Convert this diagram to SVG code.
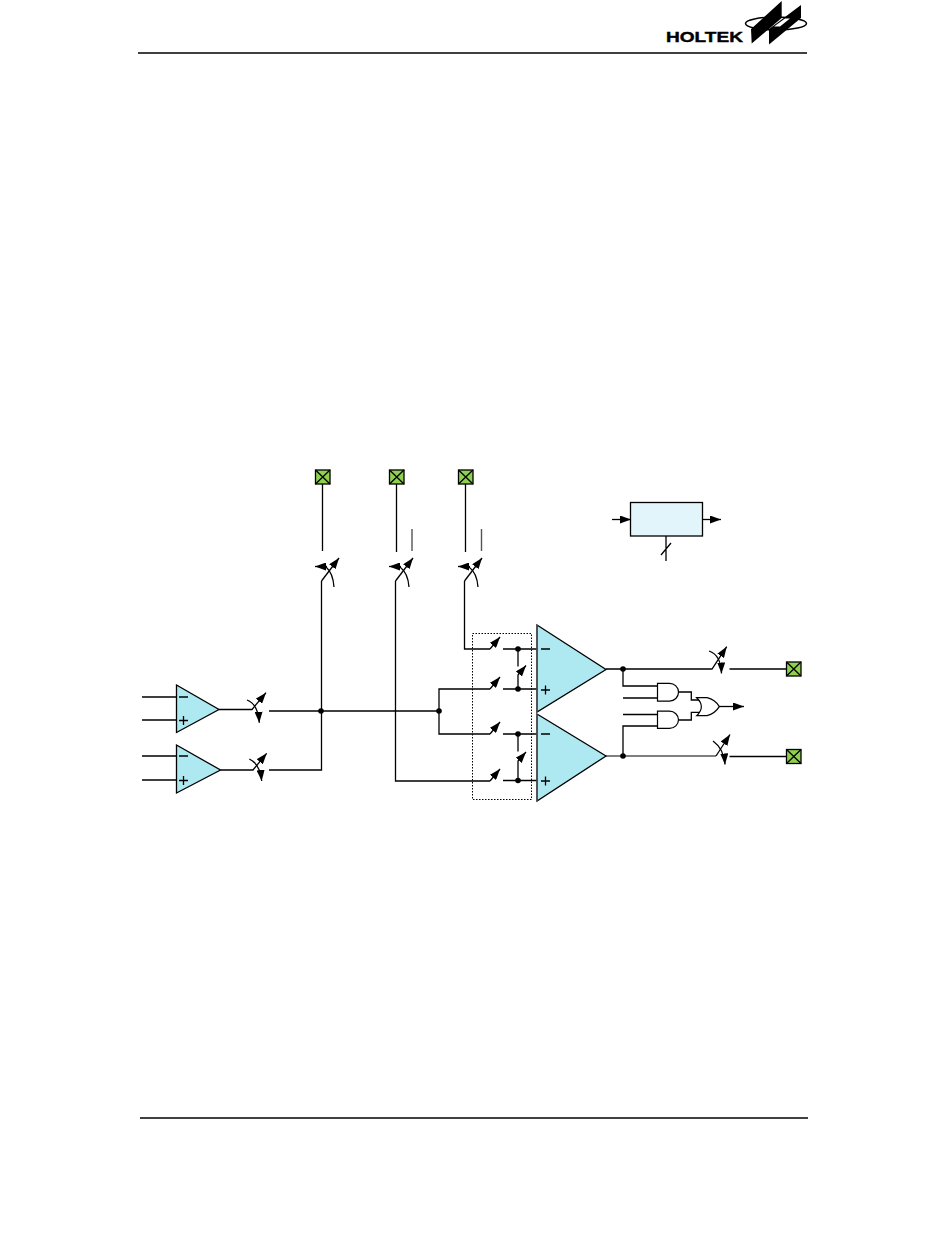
<svg xmlns="http://www.w3.org/2000/svg" width="950" height="1241" viewBox="0 0 950 1241">
<style>
.w{fill:none;stroke:#000;stroke-width:1.3}
.g{fill:none;stroke:#555;stroke-width:1.4}
.amp{fill:#aee8f1;stroke:#000;stroke-width:1.3}
.pad{fill:#8fd14f;stroke:#000;stroke-width:1.3}
.gate{fill:#fff;stroke:#000;stroke-width:1.2}
.dot{fill:#000}
</style>
<defs>
<marker id="a" viewBox="0 0 11 8" refX="11" refY="4" markerWidth="11" markerHeight="8" markerUnits="userSpaceOnUse" orient="auto"><path d="M0 0L11 4L0 8Z" fill="#000"/></marker>
<g id="pad"><rect class="pad" x="0" y="0" width="14.500" height="14"/><path class="w" d="M0 0L14.500 14M14.500 0L0 14"/></g>
</defs>
<rect width="950" height="1241" fill="#fff"/>
<g id="header">
<path d="M138 53H807" stroke="#000" stroke-width="1.6"/>
<text x="666" y="41.800" font-family="Liberation Sans, Arial, sans-serif" font-weight="700" font-size="15.500" textLength="77" lengthAdjust="spacingAndGlyphs" stroke="#000" stroke-width="0.4">HOLTEK</text>
<ellipse cx="776" cy="23.500" rx="30.500" ry="6.500" fill="none" stroke="#000" stroke-width="1.500"/>
<path d="M781.700 1V18L751.700 43.500L751 29Z M801 5V18L769 44.500V29Z" fill="#000"/>
<path d="M774 26.500L785 18.500L790 18.500L780 26.500Z" fill="#fff"/>
</g>
<g id="connectors">
<path class="w" d="M322.500 484V551M396.500 484V552M465.500 484V552"/>
<path class="g" d="M412 529V551M481.500 529V551"/>
<path class="w" d="M321.500 581L339 558" marker-end="url(#a)"/>
<path class="w" d="M395.500 581L413 558" marker-end="url(#a)"/>
<path class="w" d="M464.500 581L482 558" marker-end="url(#a)"/>
<path class="w" d="M327 566.500H315" marker-end="url(#a)"/>
<path class="w" d="M401 566.500H389" marker-end="url(#a)"/>
<path class="w" d="M470 566.500H458" marker-end="url(#a)"/>
<path class="w" d="M326 567Q333 573 334 587M400 567Q408 573 409 587M469 567Q477 573 478 587"/>
<path class="w" d="M321.500 581V770H269"/>
<path class="w" d="M395.500 581V781H490"/>
<path class="w" d="M464.500 581V649H490"/>
<path class="w" d="M142 697H176.500M142 720H176.500M142 756H176.500M142 780H176.500"/>
<path class="w" d="M219 709.500H252L266 692.700" marker-end="url(#a)"/>
<path class="w" d="M247 700Q258 704 259.300 722.700" marker-end="url(#a)"/>
<path class="w" d="M220.500 770H253L266.700 753.300" marker-end="url(#a)"/>
<path class="w" d="M249.300 759Q260 764 261.700 781" marker-end="url(#a)"/>
<path class="w" d="M269 711H439"/>
<path class="w" d="M490 689H439V734H490"/>
<path class="w" d="M490 649L500 637" marker-end="url(#a)"/>
<path class="w" d="M490 689L500 677" marker-end="url(#a)"/>
<path class="w" d="M490 734L500 722" marker-end="url(#a)"/>
<path class="w" d="M490 781L500 769" marker-end="url(#a)"/>
<path class="w" d="M503 649H537M503 689H537M503 734H537M503 780.500H537"/>
<path class="w" d="M518 649V666.500M518 734V751.500"/>
<path class="w" d="M518 689V675L526 665.500" marker-end="url(#a)"/>
<path class="w" d="M518 780.500V761L526 752" marker-end="url(#a)"/>
<rect x="472.500" y="633.500" width="59" height="166" fill="none" stroke="#000" stroke-width="1" stroke-dasharray="1.500 1.500"/>
<path class="w" d="M606 669H712L726.700 646.700" marker-end="url(#a)"/>
<path class="w" d="M709 651Q721 655 721.500 673.500" marker-end="url(#a)"/>
<path class="g" d="M606 756H716"/>
<path class="w" d="M716 756L730 734.500" marker-end="url(#a)"/>
<path class="w" d="M713 741Q724 749 725 764.500" marker-end="url(#a)"/>
<path class="w" d="M729.500 669H786M729.500 756.500H786"/>
<path class="w" d="M623 669V686H657.500M623 698H657.500M623 714.500H657.500M657.500 726H623V756"/>
<path class="w" d="M679 692H691.300V700H700M679 720H691.300V712.300H700"/>
<path class="w" d="M719 706.500H744" marker-end="url(#a)"/>
<path class="w" d="M612 519.500H631" marker-end="url(#a)"/>
<path class="w" d="M702.500 519.500H721" marker-end="url(#a)"/>
<path class="w" d="M666 536V561M661 555L671 543"/>
</g>
<g id="opamp-1"><path class="amp" d="M176.500 685L219 709.500L176.500 732.500Z"/><path class="w" d="M179 697H188M179 720.500H188M183.500 716V725"/></g>
<g id="opamp-2"><path class="amp" d="M176.500 745L220.500 770L176.500 793Z"/><path class="w" d="M179 756H188M179 780.500H188M183.500 776V785"/></g>
<g id="comparator-1"><path class="amp" d="M537 625L606 669.500L537 712Z"/><path class="g" d="M537 625V712"/><path class="w" d="M541 649H550M541 690H550M545.500 685.500V694.500"/></g>
<g id="comparator-2"><path class="amp" d="M537 714L606 756L537 801Z"/><path class="g" d="M537 714V801"/><path class="w" d="M541 734H550M541 781H550M545.500 776.500V785.500"/></g>
<g id="pad-1"><use href="#pad" x="315.500" y="470"/></g>
<g id="pad-2"><use href="#pad" x="389.500" y="470"/></g>
<g id="pad-3"><use href="#pad" x="458.500" y="470"/></g>
<g id="pad-4"><use href="#pad" x="786.500" y="662"/></g>
<g id="pad-5"><use href="#pad" x="786.500" y="749.500"/></g>
<g id="and-1"><path class="gate" d="M657.500 683.300H669.500A9 8.900 0 0 1 669.500 701.100H657.500Z"/></g>
<g id="and-2"><path class="gate" d="M657.500 711.200H669.500A9 8.600 0 0 1 669.500 728.400H657.500Z"/></g>
<g id="or-1"><path class="gate" d="M696.700 697.700H707Q715 699.500 719.300 706.600Q715 713.500 707 715.700H696.700Q706 706.700 696.700 697.700Z"/></g>
<g id="block"><rect x="630.500" y="502.500" width="72" height="33.500" fill="#e2f5fa" stroke="#000" stroke-width="1.300"/></g>
<g id="junctions">
<circle class="dot" cx="321" cy="711" r="2.800"/><circle class="dot" cx="439" cy="711" r="2.800"/>
<circle class="dot" cx="518" cy="649" r="2.800"/><circle class="dot" cx="518" cy="689" r="2.800"/><circle class="dot" cx="518" cy="734" r="2.800"/><circle class="dot" cx="518" cy="780.500" r="2.800"/>
<circle class="dot" cx="623" cy="669" r="2.800"/><circle class="dot" cx="623" cy="756" r="2.800"/>
</g>
<g id="footer"><path d="M140 1118H808" stroke="#000" stroke-width="1.6"/></g>
</svg>
